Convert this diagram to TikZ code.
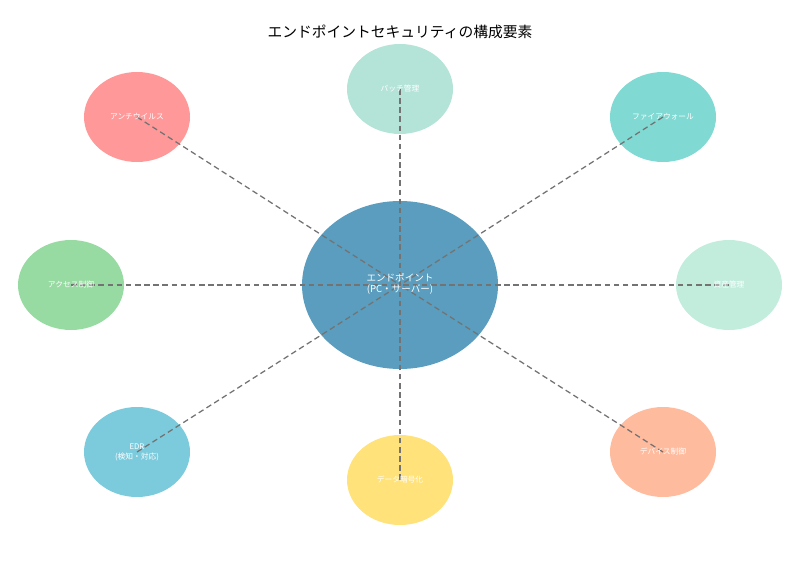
\documentclass[tikz,border=0pt]{standalone}
\usepackage{fontspec}
\setmainfont{Noto Sans CJK JP}
\begin{document}
\begin{tikzpicture}[x=0.025cm,y=-0.025cm,
  sat/.style={inner sep=0pt,text=white,font=\fontsize{5.5}{7}\selectfont,align=center},
  link/.style={draw=black!55,line width=0.9pt,dash pattern=on 4pt off 2.5pt}]
\useasboundingbox (0,0) rectangle (800,570);
\node[font=\fontsize{10.5}{12}\selectfont] (title) at (400,32) {エンドポイントセキュリティの構成要素};
\fill[color={rgb,255:red,90;green,157;blue,190}] (400,285) ellipse [x radius=98,y radius=84];
\coordinate (c) at (400,285);
\foreach \n/\x/\y/\r/\g/\b in {av/137/117/255/153/153, pa/400/89/180/227/216, fw/663/117/128/217/210, ac/71/285/152/219/162, as/729/285/194/237/221, ed/137/452/124/203/221, da/400/480/255/226/122, de/663/452/255/187/158}{
  \definecolor{col\n}{RGB}{\r,\g,\b}
  \fill[col\n] (\x,\y) ellipse [x radius=53,y radius=45];
  \coordinate (\n) at (\x,\y);
}
\foreach \n in {av,pa,fw,ac,as,ed,da,de}{\draw[link] (\n) -- (c);}
\node[text=white,font=\fontsize{6.8}{8}\selectfont,align=center] (center) at (400,284) {エンドポイント\\(PC・サーバー)};
\node[sat] (tav) at (137,117) {アンチウイルス};
\node[sat] (tpa) at (400,89) {パッチ管理};
\node[sat] (tfw) at (663,117) {ファイアウォール};
\node[sat] (tac) at (71,285) {アクセス制御};
\node[sat] (tas) at (729,285) {資産管理};
\node[sat] (ted) at (137,452) {EDR\\(検知・対応)};
\node[sat] (tda) at (400,480) {データ暗号化};
\node[sat] (tde) at (663,452) {デバイス制御};
\end{tikzpicture}
\end{document}
